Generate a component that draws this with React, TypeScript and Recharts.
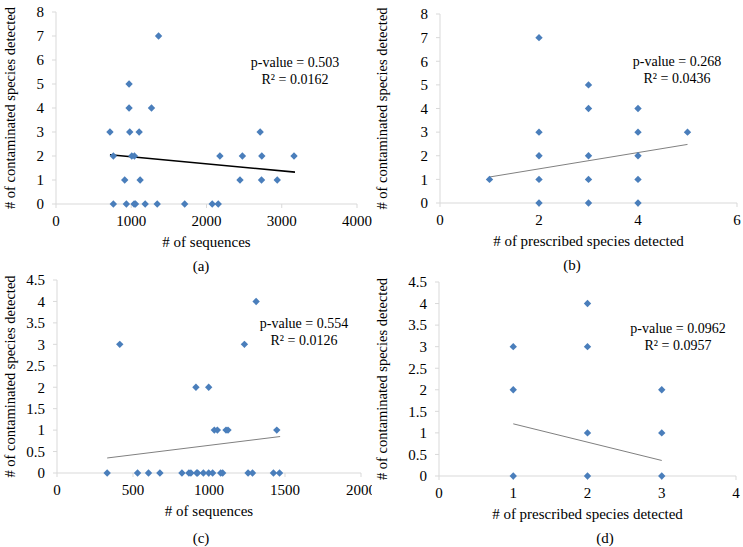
import React from "react";
import { ReferenceLine, Scatter, ScatterChart, XAxis, YAxis } from "recharts";

// (a) contaminated species vs # of sequences
const aSequences = [717, 762, 762, 913, 935, 971, 971, 980, 1007, 1042, 1038, 1056, 1105, 1118, 1185, 1269, 1345, 1363, 1710, 2076, 2156, 2178, 2445, 2477, 2713, 2731, 2735, 2940, 3163];
const aContaminated = [3, 2, 0, 1, 0, 5, 4, 3, 2, 2, 0, 0, 3, 1, 0, 4, 0, 7, 0, 0, 0, 2, 1, 2, 3, 1, 2, 1, 2];
const aTrendX = [717, 3176];
const aTrendY = [2.05, 1.33];

// (b) contaminated vs prescribed species detected
const bPrescribed = [1, 2, 2, 2, 2, 2, 3, 3, 3, 3, 3, 4, 4, 4, 4, 4, 5];
const bContaminated = [1, 7, 3, 2, 1, 0, 5, 4, 2, 1, 0, 4, 3, 2, 1, 0, 3];
const bTrendX = [1, 5];
const bTrendY = [1.1, 2.48];

// (c)
const cSequences = [330, 413, 530, 602, 677, 822, 868, 881, 914, 919, 925, 963, 998, 998, 1024, 1035, 1055, 1077, 1090, 1112, 1125, 1233, 1257, 1286, 1310, 1424, 1446, 1464];
const cContaminated = [0, 3, 0, 0, 0, 0, 0, 0, 2, 0, 0, 0, 2, 0, 0, 1, 1, 0, 0, 1, 1, 3, 0, 0, 4, 0, 1, 0];
const cTrendX = [330, 1468];
const cTrendY = [0.35, 0.85];

// (d)
const dPrescribed = [1, 1, 1, 2, 2, 2, 2, 3, 3, 3];
const dContaminated = [3, 2, 0, 4, 3, 1, 0, 2, 1, 0];
const dTrendX = [1, 3];
const dTrendY = [1.21, 0.36];

const seqTicksA = [0, 1000, 2000, 3000, 4000];
const prescribedTicksB = [0, 2, 4, 6];
const seqTicksC = [0, 500, 1000, 1500, 2000];
const prescribedTicksD = [0, 1, 2, 3, 4];
const yTicks8 = [0, 1, 2, 3, 4, 5, 6, 7, 8];
const yTicks45 = [0, 0.5, 1, 1.5, 2, 2.5, 3, 3.5, 4, 4.5];

const FONT = "'Liberation Serif', 'DejaVu Serif', serif";
const BLUE = "#4A7EBB";
const AXIS = "#d9d9d9";

const zip = (xs: number[], ys: number[]) => xs.map((x, i) => ({ x, y: ys[i] }));

function Diamond(props: any) {
  const { cx, cy } = props;
  if (cx == null || cy == null) return null;
  const r = 3.7;
  return <polygon points={`${cx},${cy - r} ${cx + r},${cy} ${cx},${cy + r} ${cx - r},${cy}`} fill={BLUE} />;
}

type PanelProps = {
  left: number;
  top: number;
  width: number;
  height: number;
  margin: { top: number; right: number; bottom: number; left: number };
  yWidth: number;
  xs: number[];
  ys: number[];
  trendX: number[];
  trendY: number[];
  trendColor: string;
  trendWidth: number;
  xDomain: [number, number];
  xTicks: number[];
  yDomain: [number, number];
  yTicks: number[];
  xTitle: string;
};

function Panel(p: PanelProps) {
  const tick = { fill: "#000", fontSize: 15, fontFamily: FONT };
  return (
    <div style={{ position: "absolute", left: p.left, top: p.top }}>
      <ScatterChart width={p.width} height={p.height} margin={p.margin}>
        <XAxis
          type="number"
          dataKey="x"
          domain={p.xDomain}
          ticks={p.xTicks}
          stroke={AXIS}
          tickSize={4}
          tickMargin={7}
          tick={tick}
          height={45}
          interval={0}
          label={{ value: p.xTitle, position: "insideBottom", offset: 2, fill: "#000", fontSize: 15, fontFamily: FONT }}
        />
        <YAxis
          type="number"
          dataKey="y"
          domain={p.yDomain}
          ticks={p.yTicks}
          stroke={AXIS}
          tickSize={4}
          tickMargin={8}
          tick={tick}
          width={p.yWidth}
          interval={0}
          label={{
            value: "# of contaminated species detected",
            angle: -90,
            position: "insideLeft",
            offset: 10,
            fill: "#000",
            fontSize: 14.5,
            fontFamily: FONT,
            style: { textAnchor: "middle" },
          }}
        />
        <Scatter data={zip(p.xs, p.ys)} shape={Diamond} isAnimationActive={false} />
        <ReferenceLine
          segment={zip(p.trendX, p.trendY)}
          stroke={p.trendColor}
          strokeWidth={p.trendWidth}
          ifOverflow="visible"
        />
      </ScatterChart>
    </div>
  );
}

function Note({ x, y, lines }: { x: number; y: number; lines: string[] }) {
  return (
    <div
      style={{
        position: "absolute",
        left: x - 80,
        top: y,
        width: 160,
        textAlign: "center",
        fontFamily: FONT,
        fontSize: 14,
        lineHeight: "17px",
        color: "#000",
      }}
    >
      {lines.map((l) => (
        <div key={l}>{l}</div>
      ))}
    </div>
  );
}

function Caption({ x, y, text }: { x: number; y: number; text: string }) {
  return (
    <div
      style={{
        position: "absolute",
        left: x - 20,
        top: y - 9,
        width: 40,
        textAlign: "center",
        fontFamily: FONT,
        fontSize: 15,
        lineHeight: "18px",
        color: "#000",
      }}
    >
      {text}
    </div>
  );
}

export default function App() {
  return (
    <div style={{ position: "absolute", left: 0, top: 0, width: 743, height: 547, background: "#fff", overflow: "hidden" }}>
      <Panel
        left={0}
        top={0}
        width={372}
        height={273}
        margin={{ top: 12, right: 15, bottom: 24, left: 0 }}
        yWidth={56}
        xs={aSequences}
        ys={aContaminated}
        trendX={aTrendX}
        trendY={aTrendY}
        trendColor="#000"
        trendWidth={1.6}
        xDomain={[0, 4000]}
        xTicks={seqTicksA}
        yDomain={[0, 8]}
        yTicks={yTicks8}
        xTitle="# of sequences"
      />
      <Panel
        left={372}
        top={0}
        width={371}
        height={273}
        margin={{ top: 14, right: 6, bottom: 25, left: 0 }}
        yWidth={68}
        xs={bPrescribed}
        ys={bContaminated}
        trendX={bTrendX}
        trendY={bTrendY}
        trendColor="#808080"
        trendWidth={1}
        xDomain={[0, 6]}
        xTicks={prescribedTicksB}
        yDomain={[0, 8]}
        yTicks={yTicks8}
        xTitle="# of prescribed species detected"
      />
      <Panel
        left={0}
        top={273}
        width={372}
        height={274}
        margin={{ top: 7, right: 11, bottom: 29, left: 0 }}
        yWidth={57}
        xs={cSequences}
        ys={cContaminated}
        trendX={cTrendX}
        trendY={cTrendY}
        trendColor="#808080"
        trendWidth={1}
        xDomain={[0, 2000]}
        xTicks={seqTicksC}
        yDomain={[0, 4.5]}
        yTicks={yTicks45}
        xTitle="# of sequences"
      />
      <Panel
        left={372}
        top={273}
        width={371}
        height={274}
        margin={{ top: 9, right: 7, bottom: 26, left: 0 }}
        yWidth={67}
        xs={dPrescribed}
        ys={dContaminated}
        trendX={dTrendX}
        trendY={dTrendY}
        trendColor="#808080"
        trendWidth={1}
        xDomain={[0, 4]}
        xTicks={prescribedTicksD}
        yDomain={[0, 4.5]}
        yTicks={yTicks45}
        xTitle="# of prescribed species detected"
      />
      <Note x={295} y={54} lines={["p-value = 0.503", "R\u00b2 = 0.0162"]} />
      <Note x={677} y={53} lines={["p-value = 0.268", "R\u00b2 = 0.0436"]} />
      <Note x={304} y={315} lines={["p-value = 0.554", "R\u00b2 = 0.0126"]} />
      <Note x={678} y={320} lines={["p-value = 0.0962", "R\u00b2 = 0.0957"]} />
      <Caption x={201} y={266} text="(a)" />
      <Caption x={572} y={265} text="(b)" />
      <Caption x={201} y={538} text="(c)" />
      <Caption x={605} y={538} text="(d)" />
    </div>
  );
}
